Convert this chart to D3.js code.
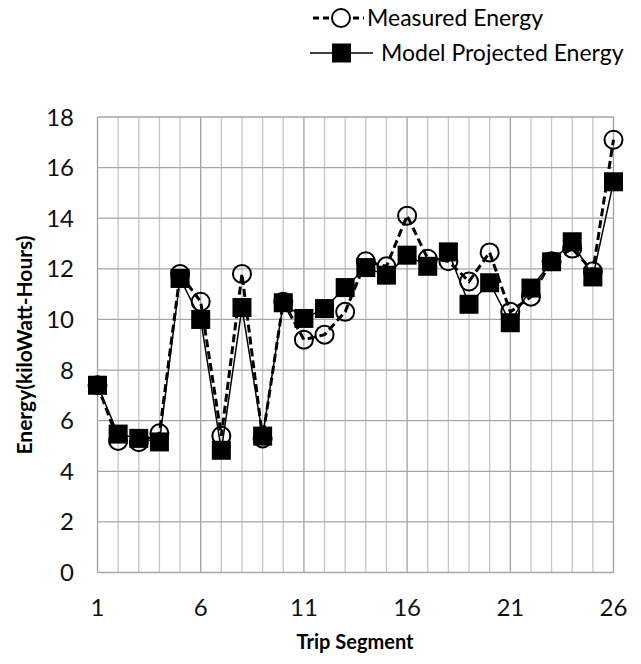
<!DOCTYPE html>
<html>
<head>
<meta charset="utf-8">
<script src="https://cdn.jsdelivr.net/npm/d3@7.9.0/dist/d3.min.js"></script>
<style>
  body { margin: 0; background: #fff; }
  svg { font-family: Lato, "Open Sans", sans-serif; }
</style>
</head>
<body>
<svg width="641" height="664"></svg>
<script>
const segments = d3.range(1, 27);
const measured = [7.4, 5.2, 5.15, 5.5, 11.8, 10.7, 5.4, 11.8, 5.3, 10.7, 9.2, 9.4, 10.3,
                  12.3, 12.1, 14.1, 12.4, 12.3, 11.5, 12.65, 10.3, 10.9, 12.3, 12.8, 11.9, 17.1];
const model = [7.4, 5.47, 5.3, 5.16, 11.62, 10.0, 4.83, 10.47, 5.39, 10.66, 10.04, 10.43, 11.26,
               12.05, 11.75, 12.54, 12.1, 12.67, 10.6, 11.45, 9.87, 11.24, 12.28, 13.07, 11.68, 15.44];
const xTicks = [1, 6, 11, 16, 21, 26];
const yTicks = d3.range(0, 19, 2);

const svg = d3.select('svg');
const x = d3.scaleLinear().domain([1, 26]).range([97.5, 613.5]);
const y = d3.scaleLinear().domain([0, 18]).range([572.5, 117]);

// gridlines
svg.append('g').selectAll('line').data(segments).join('line')
    .attr('x1', d => x(d)).attr('x2', d => x(d))
    .attr('y1', y(0)).attr('y2', y(18))
    .attr('stroke', d => xTicks.includes(d) ? '#a0a0a0' : '#c6c6c6')
    .attr('stroke-width', 1.3);

svg.append('g').selectAll('line').data(yTicks).join('line')
    .attr('x1', x(1)).attr('x2', x(26))
    .attr('y1', d => y(d)).attr('y2', d => y(d))
    .attr('stroke', '#a6a6a6')
    .attr('stroke-width', 1.3);

// tick labels
svg.append('g').selectAll('text').data(yTicks).join('text')
    .attr('x', 74).attr('y', d => y(d) + 8.5)
    .attr('text-anchor', 'end')
    .attr('font-size', 24).attr('fill', '#111')
    .text(d => d);

svg.append('g').selectAll('text').data(xTicks).join('text')
    .attr('x', d => x(d)).attr('y', 616)
    .attr('text-anchor', 'middle')
    .attr('font-size', 24).attr('fill', '#111')
    .text(d => d);

// axis titles
svg.append('text')
    .attr('x', 355).attr('y', 649)
    .attr('text-anchor', 'middle')
    .attr('font-size', 20).attr('font-weight', 'bold')
    .text('Trip Segment');

svg.append('text')
    .attr('transform', 'translate(32,345) rotate(-90)')
    .attr('text-anchor', 'middle')
    .attr('font-size', 21).attr('font-weight', 'bold')
    .text('Energy(kiloWatt-Hours)');

// lines
const line = d3.line().x((d, i) => x(segments[i])).y(d => y(d));

svg.append('path').datum(measured)
    .attr('d', line).attr('fill', 'none')
    .attr('stroke', '#000').attr('stroke-width', 3)
    .attr('stroke-dasharray', '8,4');

svg.append('path').datum(model)
    .attr('d', line).attr('fill', 'none')
    .attr('stroke', '#000').attr('stroke-width', 1.5);

// markers
svg.append('g').selectAll('circle').data(measured).join('circle')
    .attr('cx', (d, i) => x(segments[i])).attr('cy', d => y(d))
    .attr('r', 9).attr('fill', 'none')
    .attr('stroke', '#000').attr('stroke-width', 2);

svg.append('g').selectAll('rect').data(model).join('rect')
    .attr('x', (d, i) => x(segments[i]) - 9.5).attr('y', d => y(d) - 9.5)
    .attr('width', 19).attr('height', 19)
    .attr('fill', '#000');

// legend
const legend = svg.append('g');
legend.append('line')
    .attr('x1', 313).attr('x2', 364).attr('y1', 18).attr('y2', 18)
    .attr('stroke', '#000').attr('stroke-width', 3).attr('stroke-dasharray', '6,4');
legend.append('circle')
    .attr('cx', 341).attr('cy', 18).attr('r', 9)
    .attr('fill', '#fff').attr('stroke', '#000').attr('stroke-width', 2);
legend.append('text')
    .attr('x', 367).attr('y', 26).attr('font-size', 23)
    .text('Measured Energy');

legend.append('line')
    .attr('x1', 310).attr('x2', 373).attr('y1', 53).attr('y2', 53)
    .attr('stroke', '#000').attr('stroke-width', 1.5);
legend.append('rect')
    .attr('x', 332).attr('y', 43.5).attr('width', 19).attr('height', 19)
    .attr('fill', '#000');
legend.append('text')
    .attr('x', 381).attr('y', 61).attr('font-size', 23)
    .text('Model Projected Energy');
</script>
</body>
</html>
